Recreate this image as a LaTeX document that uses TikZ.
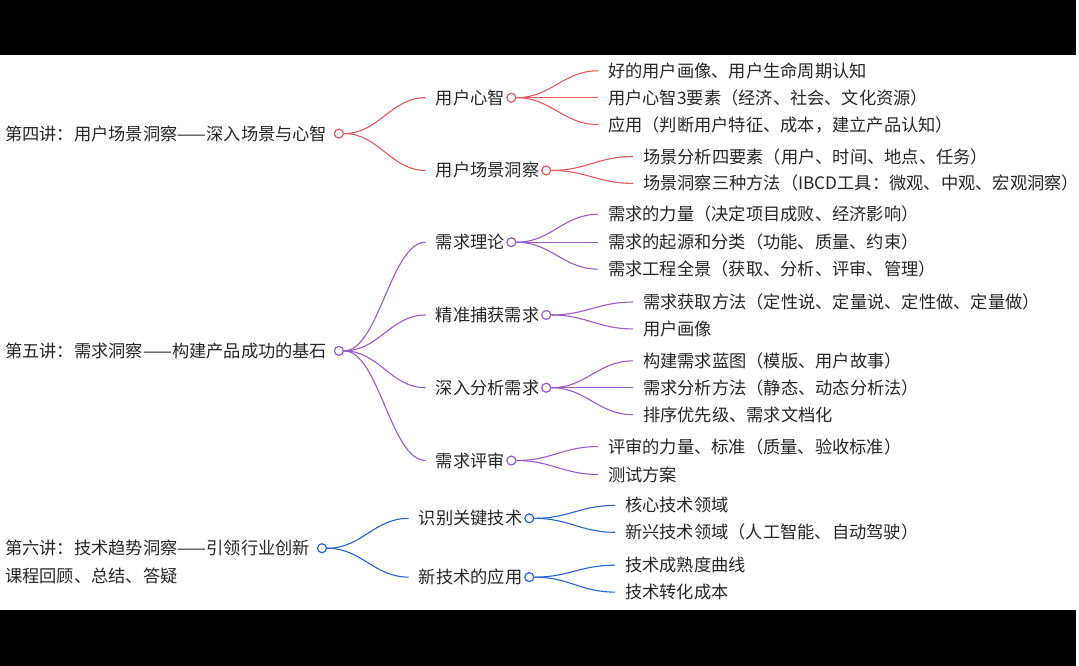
\documentclass[tikz,border=0pt]{standalone}
\usepackage{fontspec}
\setmainfont{Noto Sans CJK SC}
\begin{document}
\begin{tikzpicture}[x=1pt,y=-1pt,
  t/.style={anchor=west,inner sep=0pt,font=\fontsize{17.3}{19}\selectfont,text=black!85},
  dot/.style={circle,draw=#1,fill=white,line width=1.2pt,minimum size=9pt,inner sep=0pt},
  ln/.style={draw=#1,line width=1.1pt}]
\fill[black] (0,0) rectangle (1079,668);
\fill[white] (0,55) rectangle (1079,612);
\definecolor{cr}{HTML}{E8585A}
\definecolor{cp}{HTML}{9B59C9}
\definecolor{cb}{HTML}{2563D0}
\newcommand{\lk}[3]{\draw[ln=#1] (#2) .. controls +(35,0) and +(-35,0) .. ([xshift=-10pt]#3);}
% root 1
\node[t] (r1) at (5,134) {第四讲：用户场景洞察——深入场景与心智};
\node[dot=cr] (r1d) at (340,134) {};
\node[t] (a1) at (437,98) {用户心智}; \node[dot=cr] (a1d) at (513,98) {};
\node[t] (a2) at (437,171) {用户场景洞察}; \node[dot=cr] (a2d) at (548,171) {};
\node[t] (a11) at (610,71) {好的用户画像、用户生命周期认知};
\node[t] (a12) at (610,98) {用户心智3要素（经济、社会、文化资源）};
\node[t] (a13) at (610,125) {应用（判断用户特征、成本，建立产品认知）};
\node[t] (a21) at (645,157) {场景分析四要素（用户、时间、地点、任务）};
\node[t] (a22) at (645,184) {场景洞察三种方法（IBCD工具：微观、中观、宏观洞察）};
\foreach \c in {a1,a2}{\lk{cr}{r1d.east}{\c.west}}
\foreach \c in {a11,a12,a13}{\lk{cr}{a1d.east}{\c.west}}
\foreach \c in {a21,a22}{\lk{cr}{a2d.east}{\c.west}}
% root 2
\node[t] (r2) at (5,352) {第五讲：需求洞察——构建产品成功的基石};
\node[dot=cp] (r2d) at (340,352) {};
\node[t] (b1) at (437,243) {需求理论}; \node[dot=cp] (b1d) at (513,243) {};
\node[t] (b2) at (437,316) {精准捕获需求}; \node[dot=cp] (b2d) at (548,316) {};
\node[t] (b3) at (437,389) {深入分析需求}; \node[dot=cp] (b3d) at (548,389) {};
\node[t] (b4) at (437,462) {需求评审}; \node[dot=cp] (b4d) at (513,462) {};
\node[t] (b11) at (610,215) {需求的力量（决定项目成败、经济影响）};
\node[t] (b12) at (610,243) {需求的起源和分类（功能、质量、约束）};
\node[t] (b13) at (610,270) {需求工程全景（获取、分析、评审、管理）};
\node[t] (b21) at (645,303) {需求获取方法（定性说、定量说、定性做、定量做）};
\node[t] (b22) at (645,330) {用户画像};
\node[t] (b31) at (645,362) {构建需求蓝图（模版、用户故事）};
\node[t] (b32) at (645,389) {需求分析方法（静态、动态分析法）};
\node[t] (b33) at (645,416) {排序优先级、需求文档化};
\node[t] (b41) at (610,448) {评审的力量、标准（质量、验收标准）};
\node[t] (b42) at (610,476) {测试方案};
\foreach \c in {b1,b2,b3,b4}{\lk{cp}{r2d.east}{\c.west}}
\foreach \c in {b11,b12,b13}{\lk{cp}{b1d.east}{\c.west}}
\foreach \c in {b21,b22}{\lk{cp}{b2d.east}{\c.west}}
\foreach \c in {b31,b32,b33}{\lk{cp}{b3d.east}{\c.west}}
\foreach \c in {b41,b42}{\lk{cp}{b4d.east}{\c.west}}
% root 3
\node[t] (r3) at (5,550) {第六讲：技术趋势洞察——引领行业创新};
\node[dot=cb] (r3d) at (323,550) {};
\node[t] (c1) at (420,520) {识别关键技术}; \node[dot=cb] (c1d) at (531,520) {};
\node[t] (c2) at (420,579) {新技术的应用}; \node[dot=cb] (c2d) at (531,579) {};
\node[t] (c11) at (627,507) {核心技术领域};
\node[t] (c12) at (627,534) {新兴技术领域（人工智能、自动驾驶）};
\node[t] (c21) at (627,567) {技术成熟度曲线};
\node[t] (c22) at (627,594) {技术转化成本};
\foreach \c in {c1,c2}{\lk{cb}{r3d.east}{\c.west}}
\foreach \c in {c11,c12}{\lk{cb}{c1d.east}{\c.west}}
\foreach \c in {c21,c22}{\lk{cb}{c2d.east}{\c.west}}
\node[t] (r4) at (5,578) {课程回顾、总结、答疑};
\end{tikzpicture}
\end{document}
